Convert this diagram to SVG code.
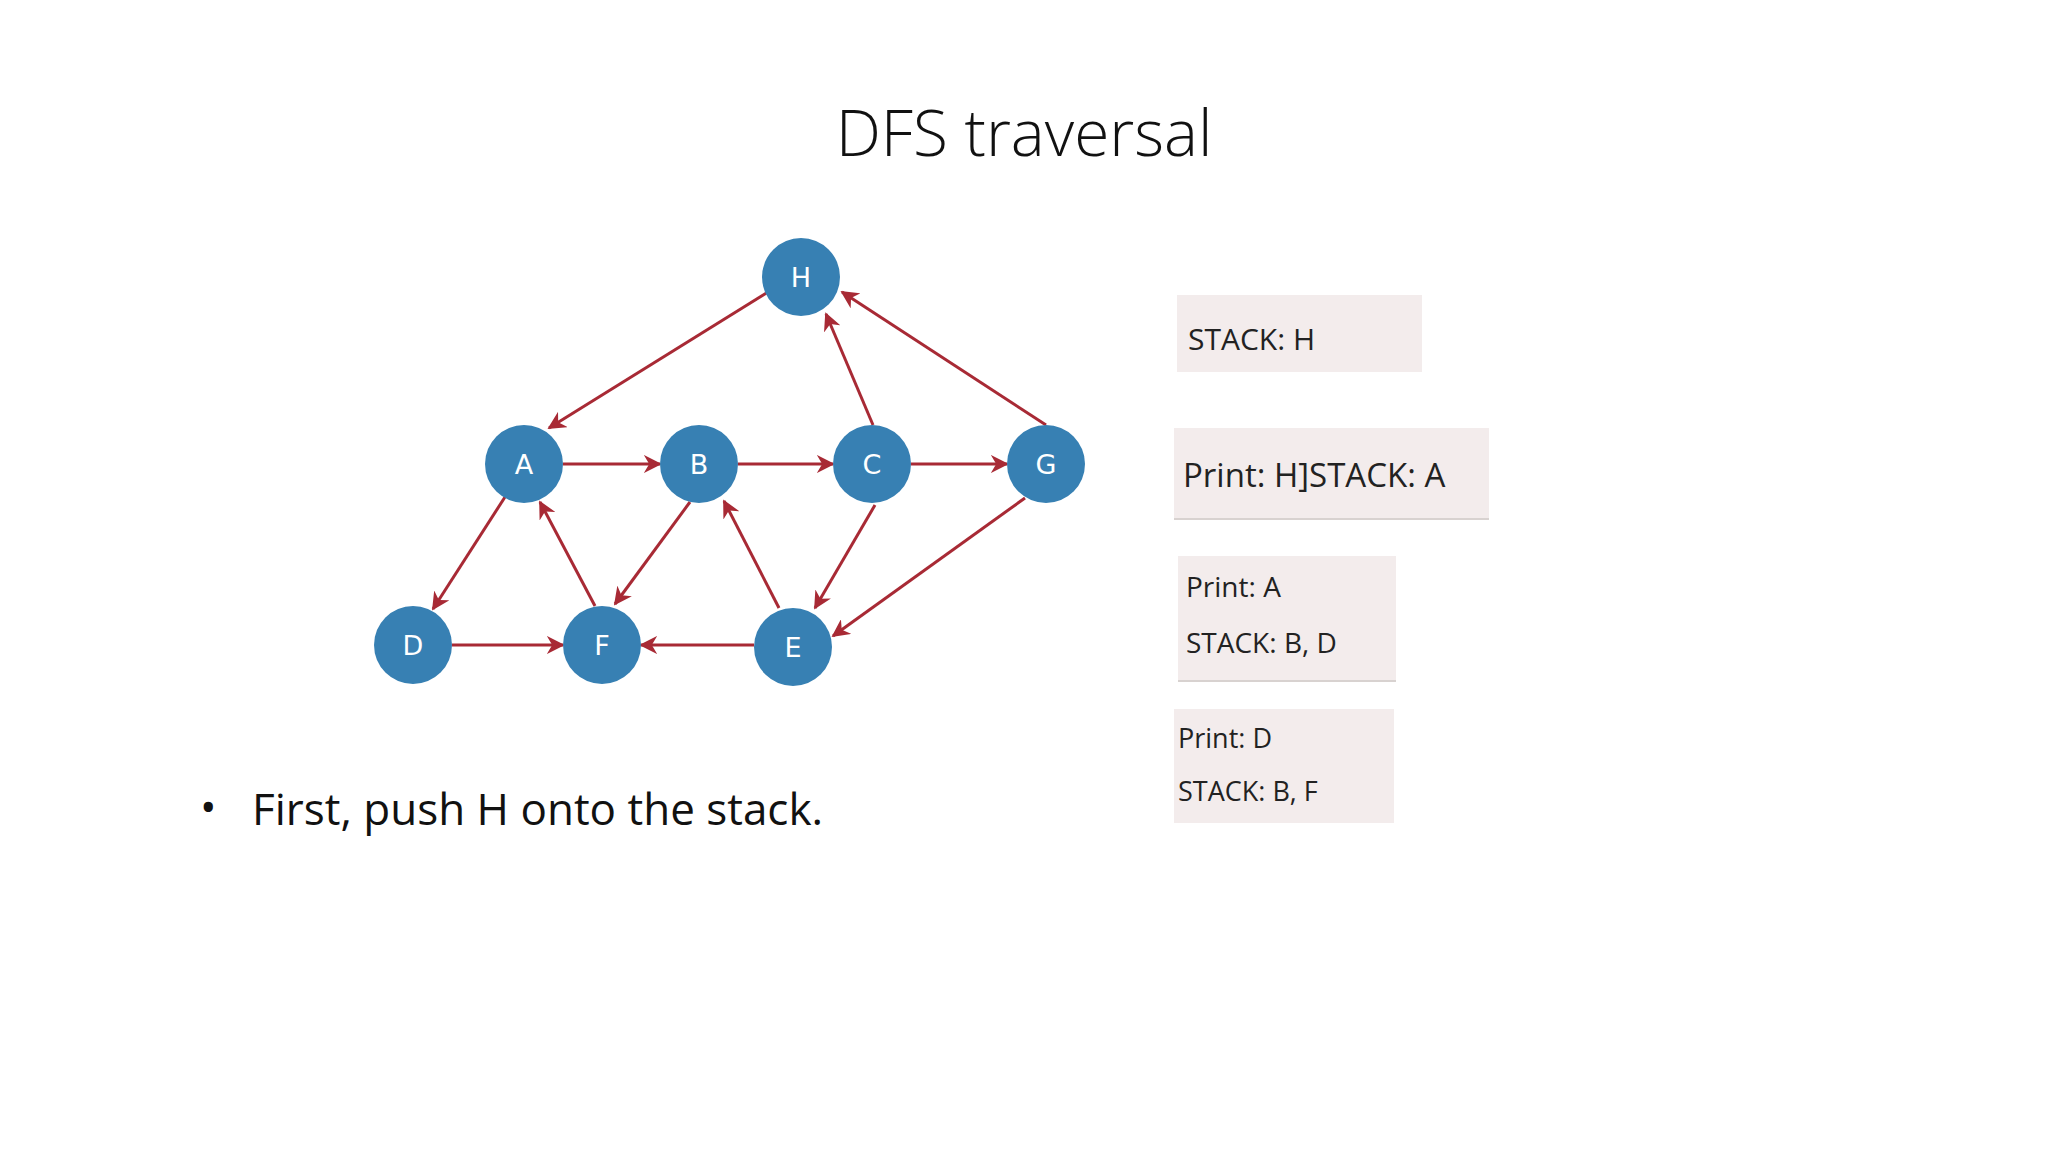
<svg xmlns="http://www.w3.org/2000/svg" width="2048" height="1152" viewBox="0 0 2048 1152">
<style>
.n{fill:#3780b3}
.nl{font-family:"DejaVu Sans",sans-serif;font-size:27px;fill:#fff;text-anchor:middle}
.e{stroke:#a82a35;stroke-width:3;fill:none;marker-end:url(#ah)}
.bx{fill:#f3ecec}
.bt{font-family:"Open Sans",sans-serif;fill:#222}
</style>
<defs>
<marker id="ah" viewBox="0 0 10 10" refX="9" refY="5" markerWidth="6" markerHeight="6" orient="auto" markerUnits="strokeWidth">
<path d="M0,0 L10,5 L0,10 L3,5 z" fill="#a82a35"/>
</marker>
</defs>
<rect width="2048" height="1152" fill="#fff"/>
<text x="1024" y="156" font-family="Open Sans,sans-serif" font-weight="300" font-size="64" text-anchor="middle" fill="#111">DFS traversal</text>
<g id="connectors">
<line class="e" x1="768" y1="292" x2="549" y2="428"/>
<line class="e" x1="873" y1="425" x2="826" y2="314"/>
<line class="e" x1="1046" y1="425" x2="842" y2="292"/>
<line class="e" x1="563" y1="464" x2="660" y2="464"/>
<line class="e" x1="738" y1="464" x2="833" y2="464"/>
<line class="e" x1="911" y1="464" x2="1007" y2="464"/>
<line class="e" x1="505" y1="497" x2="433" y2="609"/>
<line class="e" x1="595" y1="606" x2="540" y2="502"/>
<line class="e" x1="690" y1="502" x2="615" y2="604"/>
<line class="e" x1="779" y1="608" x2="724" y2="501"/>
<line class="e" x1="875" y1="505" x2="815" y2="608"/>
<line class="e" x1="1025" y1="498" x2="833" y2="636"/>
<line class="e" x1="452" y1="645" x2="563" y2="645"/>
<line class="e" x1="754" y1="645" x2="641" y2="645"/>
</g>
<g id="H"><circle class="n" cx="801" cy="277" r="39"/><text class="nl" x="801" y="287">H</text></g>
<g id="A"><circle class="n" cx="524" cy="464" r="39"/><text class="nl" x="524" y="474">A</text></g>
<g id="B"><circle class="n" cx="699" cy="464" r="39"/><text class="nl" x="699" y="474">B</text></g>
<g id="C"><circle class="n" cx="872" cy="464" r="39"/><text class="nl" x="872" y="474">C</text></g>
<g id="G"><circle class="n" cx="1046" cy="464" r="39"/><text class="nl" x="1046" y="474">G</text></g>
<g id="D"><circle class="n" cx="413" cy="645" r="39"/><text class="nl" x="413" y="655">D</text></g>
<g id="F"><circle class="n" cx="602" cy="645" r="39"/><text class="nl" x="602" y="655">F</text></g>
<g id="E"><circle class="n" cx="793" cy="647" r="39"/><text class="nl" x="793" y="657">E</text></g>
<g id="box1"><rect class="bx" x="1177" y="295" width="245" height="77"/><text class="bt" x="1188" y="350" font-size="30">STACK: H</text></g>
<g id="box2"><rect class="bx" x="1174" y="428" width="315" height="92"/><line x1="1174" y1="519" x2="1489" y2="519" stroke="#d8d2d0" stroke-width="2"/><text class="bt" x="1183" y="487" font-size="33">Print: H]STACK: A</text></g>
<g id="box3"><rect class="bx" x="1178" y="556" width="218" height="126"/><line x1="1178" y1="681" x2="1396" y2="681" stroke="#d8d2d0" stroke-width="2"/><text class="bt" x="1186" y="597" font-size="28">Print: A</text><text class="bt" x="1186" y="653" font-size="28">STACK: B, D</text></g>
<g id="box4"><rect class="bx" x="1174" y="709" width="220" height="114"/><text class="bt" x="1178" y="748" font-size="27">Print: D</text><text class="bt" x="1178" y="801" font-size="27">STACK: B, F</text></g>
<text x="200" y="823" font-family="Open Sans,sans-serif" font-size="44" fill="#111">•</text>
<text x="252" y="825" font-family="Open Sans,sans-serif" font-size="44" fill="#111">First, push H onto the stack.</text>
</svg>
